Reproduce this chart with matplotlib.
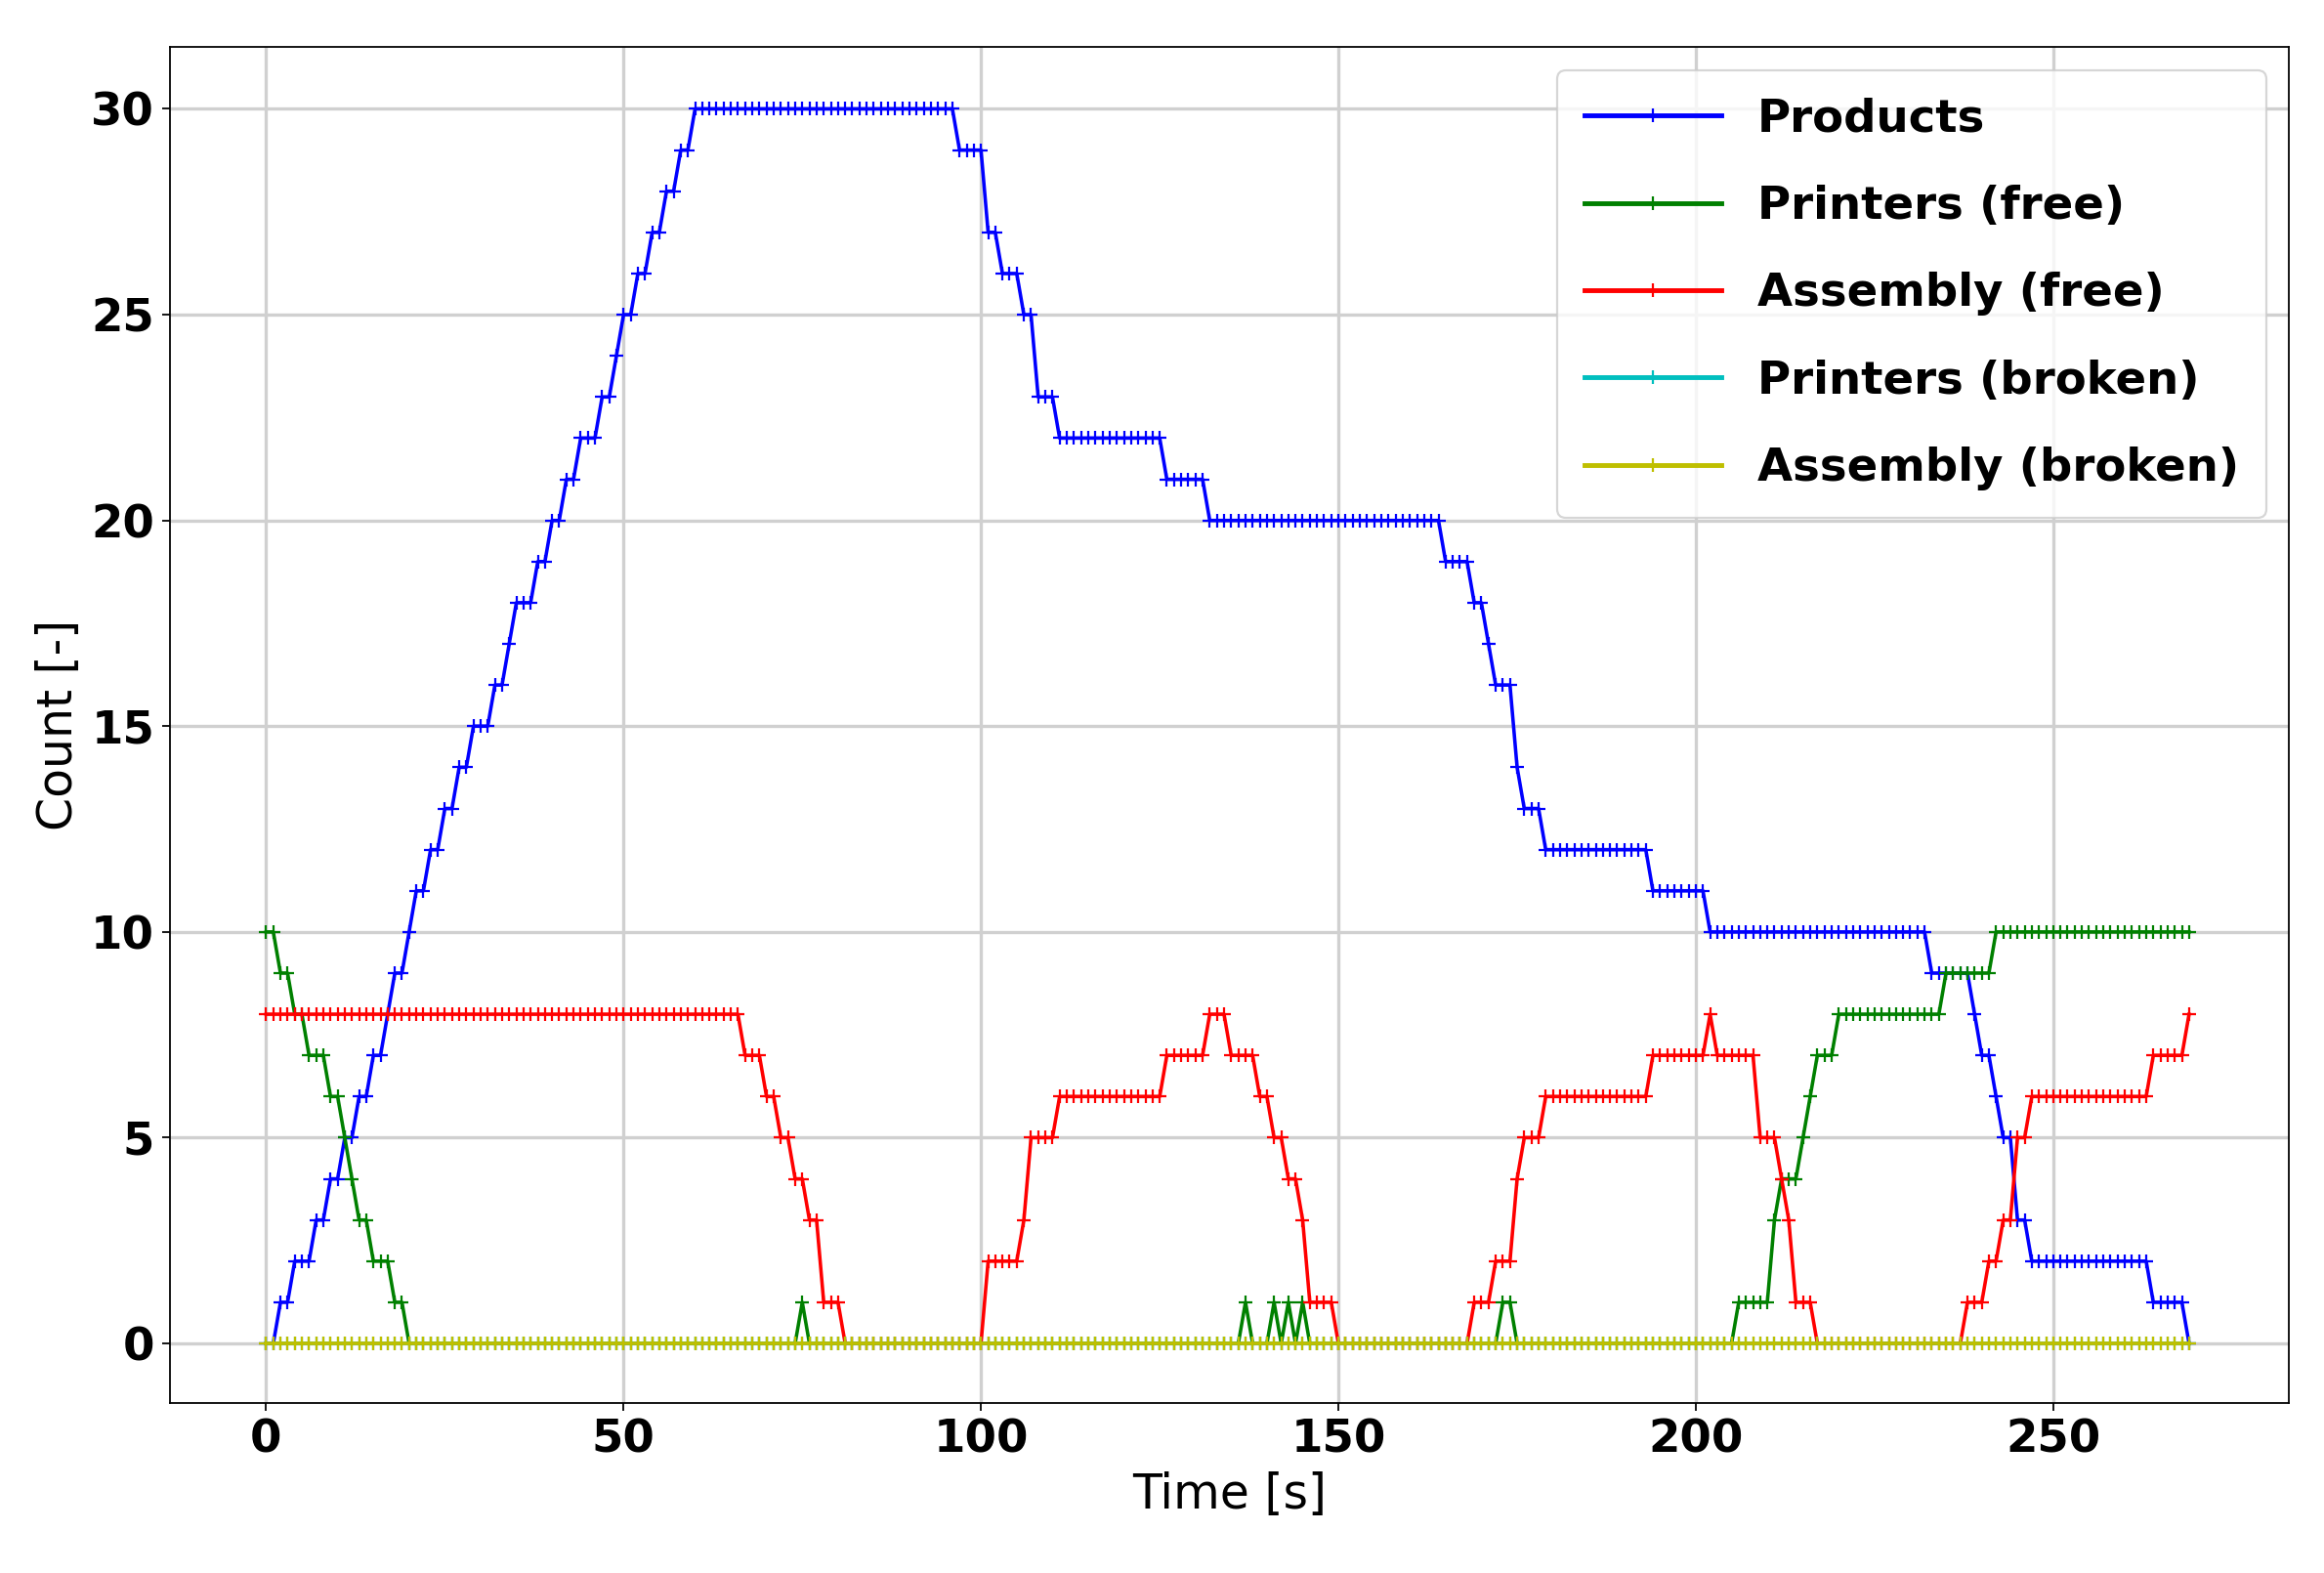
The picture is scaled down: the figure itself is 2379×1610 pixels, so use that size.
import numpy as np
import matplotlib
matplotlib.use("Agg")
import matplotlib.pyplot as plt

t_end = 269
time = np.arange(0, t_end + 1)

# change points: (start time, value)
products_cp = [(0,0),(2,1),(4,2),(7,3),(9,4),(11,5),(13,6),(15,7),(17,8),(18,9),(20,10),(21,11),
               (23,12),(25,13),(27,14),(29,15),(32,16),(34,17),(35,18),(38,19),(40,20),(42,21),
               (44,22),(47,23),(49,24),(50,25),(52,26),(54,27),(56,28),(58,29),(60,30),
               (97,29),(101,27),(103,26),(106,25),(108,23),(111,22),(126,21),(132,20),(165,19),
               (169,18),(171,17),(172,16),(175,14),(176,13),(179,12),(194,11),(202,10),(233,9),
               (239,8),(240,7),(242,6),(243,5),(245,3),(247,2),(264,1),(269,0)]
printers_free_cp = [(0,10),(2,9),(4,8),(6,7),(9,6),(11,5),(12,4),(13,3),(15,2),(18,1),(20,0),
                    (75,1),(76,0),(137,1),(138,0),(141,1),(142,0),(143,1),(144,0),(145,1),(146,0),
                    (173,1),(175,0),(206,1),(211,3),(212,4),(215,5),(216,6),(217,7),(220,8),
                    (235,9),(242,10)]
assembly_free_cp = [(0,8),(67,7),(70,6),(72,5),(74,4),(76,3),(78,1),(81,0),(101,2),(106,3),
                    (107,5),(111,6),(126,7),(132,8),(135,7),(139,6),(141,5),(143,4),(145,3),
                    (146,1),(150,0),(169,1),(172,2),(175,4),(176,5),(179,6),(194,7),(202,8),
                    (203,7),(209,5),(212,4),(213,3),(214,1),(217,0),(238,1),(241,2),(243,3),
                    (245,5),(247,6),(264,7),(269,8)]
printers_broken_cp = [(0,0)]
assembly_broken_cp = [(0,0)]

def expand(cp):
    out = np.zeros(len(time))
    for i, (t0, v) in enumerate(cp):
        t1 = cp[i+1][0] if i + 1 < len(cp) else t_end + 1
        out[t0:t1] = v
    return out

series = [("Products", products_cp, "b"),
          ("Printers (free)", printers_free_cp, "g"),
          ("Assembly (free)", assembly_free_cp, "r"),
          ("Printers (broken)", printers_broken_cp, "c"),
          ("Assembly (broken)", assembly_broken_cp, "y")]

fig = plt.figure(figsize=(2379/160, 1610/160), dpi=160)
ax = fig.add_axes([0.073, 0.108, 0.912, 0.862])
for name, cp, c in series:
    ax.plot(time, expand(cp), color=c, marker="+", markersize=6, linewidth=1.6, label=name)

ax.set_xlim(-13.5, 283)
ax.set_ylim(-1.45, 31.5)
ax.set_xticks([0, 50, 100, 150, 200, 250])
ax.set_yticks([0, 5, 10, 15, 20, 25, 30])
ax.grid(True, color="#d0d0d0", linewidth=1.5)
ax.tick_params(labelsize=21)
for lab in ax.get_xticklabels() + ax.get_yticklabels():
    lab.set_fontweight("bold")
ax.set_xlabel("Time [s]", fontsize=22, labelpad=4)
ax.set_ylabel("Count [-]", fontsize=22)
leg = ax.legend(loc="upper right", prop={"size": 21, "weight": "bold"}, handlelength=3,
                labelspacing=0.95, borderpad=0.6)
for h in leg.get_lines():
    h.set_linewidth(2.2)
fig.savefig("out.png", dpi=160)
